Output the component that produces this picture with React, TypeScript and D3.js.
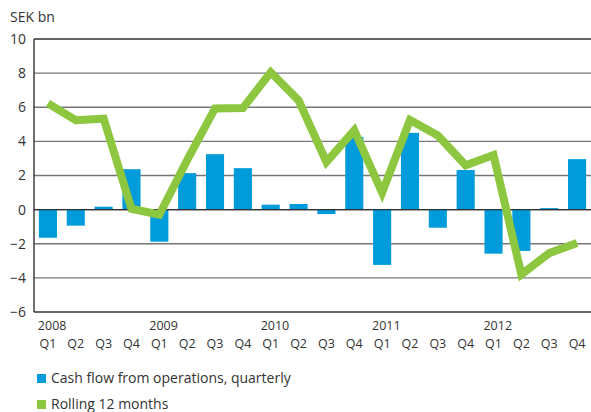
import React from 'react'
import * as d3 from 'd3'

const years = ['2008', '2009', '2010', '2011', '2012']
const quarters = ['Q1', 'Q2', 'Q3', 'Q4']
const quarterly = [-1.65, -0.94, 0.17, 2.37, -1.88, 2.14, 3.25, 2.43, 0.29, 0.33, -0.26, 4.26, -3.24, 4.5, -1.06, 2.32, -2.58, -2.42, 0.09, 2.96]
const rolling = [6.23, 5.24, 5.33, 0.05, -0.3, 2.9, 5.93, 5.95, 8.05, 6.4, 2.8, 4.65, 1.0, 5.25, 4.35, 2.6, 3.2, -3.8, -2.55, -1.95]
const yTicks = [10, 8, 6, 4, 2, 0, -2, -4, -6]
const legendItems = ['Cash flow from operations, quarterly', 'Rolling 12 months']

const blue = '#009bdb'
const green = '#8dc63f'
const font = '"Open Sans", "DejaVu Sans", sans-serif'

function App() {
    const width = 591
    const height = 412
    const left = 34
    const right = 591
    const top = 39
    const bottom = 312

    const keys = years.flatMap(y => quarters.map(q => y + q))
    const x = d3.scaleBand().domain(keys).range([left, right]).paddingInner(0.35).paddingOuter(0.175)
    const y = d3.scaleLinear().domain([-6, 10]).range([bottom, top])

    const line = d3.line<number>()
        .x((d, i) => (x(keys[i]) as number) + x.bandwidth() / 2)
        .y(d => y(d))

    return (
        <svg width={width} height={height} style={{ position: 'absolute', left: 0, top: 0, fontFamily: font }}>
            <text x={10} y={22} fontSize={14} fill="#333">SEK bn</text>
            {yTicks.map(t => (
                <g key={t}>
                    <line x1={left} x2={right} y1={y(t)} y2={y(t)}
                        stroke={t === 0 || t === 10 || t === -6 ? '#333' : '#777'} strokeWidth={1.4} />
                    <text x={26} y={y(t)} dy="0.35em" textAnchor="end" fontSize={14} fill="#333">
                        {t < 0 ? '\u2212' + Math.abs(t) : t}
                    </text>
                </g>
            ))}
            {quarterly.map((v, i) => (
                <rect key={i} x={x(keys[i])} width={x.bandwidth()}
                    y={y(Math.max(0, v))} height={Math.abs(y(v) - y(0))} fill={blue} />
            ))}
            <line x1={left} x2={right} y1={y(0)} y2={y(0)} stroke="#333" strokeWidth={1.2} />
            <line x1={left} x2={left} y1={top} y2={bottom} stroke="#333" strokeWidth={1.4} />
            <path d={line(rolling) || ''} fill="none" stroke={green} strokeWidth={8} strokeLinejoin="miter" />
            {years.map(yr => (
                <text key={yr} x={(x(yr + 'Q1') as number) - 1} y={330} fontSize={12.5} fill="#333">{yr}</text>
            ))}
            {keys.map((k, i) => (
                <text key={k} x={(x(k) as number) + x.bandwidth() / 2} y={348} textAnchor="middle" fontSize={12.5} fill="#333">
                    {quarters[i % 4]}
                </text>
            ))}
            {legendItems.map((l, i) => (
                <g key={l} transform={`translate(37, ${374 + i * 26})`}>
                    <rect x={0} y={0} width={9} height={9} fill={i === 0 ? blue : green} />
                    <text x={14} y={9} fontSize={14} fill="#333">{l}</text>
                </g>
            ))}
        </svg>
    )
}

export default App
